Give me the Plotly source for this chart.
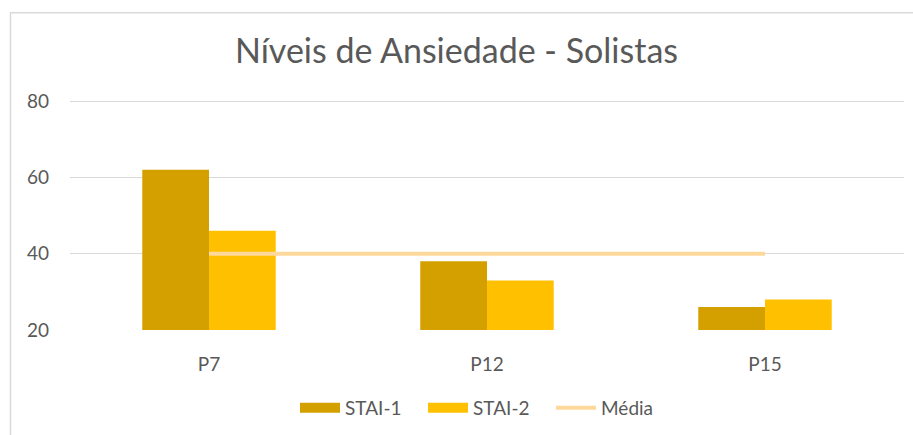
import plotly.graph_objects as go

categories = ["P7", "P12", "P15"]
stai1 = [62, 38, 26]
stai2 = [46, 33, 28]
media = [40, 40, 40]
y_ticks = [20, 40, 60, 80]

W, H = 913, 435
# plot area: 80 -> y=101, 20 -> y=330, x from 70 to 904
y_top = 80.3
px_per_unit = (330 - 101) / 60.0
top_px = 101 - (y_top - 80) * px_per_unit
L, R, T, B = 70, 9, top_px, H - 330
pw = W - L - R
ph = H - T - B

def px_x(p):
    return (p - L) / pw

def px_y(p):
    return (H - B - p) / ph

font_family = "Lato, 'Open Sans', sans-serif"
grey = "#595959"
c1, c2, c3 = "#D4A000", "#FFC000", "#FFD99C"

fig = go.Figure()
fig.add_trace(go.Bar(name="STAI-1", x=categories, y=stai1, marker_color=c1,
                     marker_line_width=0, showlegend=False, legendgroup="s1"))
fig.add_trace(go.Bar(name="STAI-2", x=categories, y=stai2, marker_color=c2,
                     marker_line_width=0, showlegend=False, legendgroup="s2"))
fig.add_trace(go.Scatter(name="Média", x=categories, y=media, mode="lines",
                         line=dict(color=c3, width=4), showlegend=False, legendgroup="m"))
# legend entries (wide swatches like the original)
fig.add_trace(go.Scatter(name="STAI-1", x=[None], y=[None], mode="lines",
                         line=dict(color=c1, width=13), legendgroup="s1"))
fig.add_trace(go.Scatter(name="STAI-2", x=[None], y=[None], mode="lines",
                         line=dict(color=c2, width=13), legendgroup="s2"))
fig.add_trace(go.Scatter(name="Média", x=[None], y=[None], mode="lines",
                         line=dict(color=c3, width=4), legendgroup="m"))

fig.update_layout(
    width=W, height=H,
    margin=dict(l=L, r=R, t=T, b=B, autoexpand=False),
    paper_bgcolor="white", plot_bgcolor="white",
    barmode="group", bargap=0.52, bargroupgap=0,
    title=dict(text="Níveis de Ansiedade - Solistas", x=0.5, xanchor="center",
               y=1 - 51 / H, yanchor="middle",
               font=dict(family=font_family, size=34, color=grey)),
    font=dict(family=font_family, color=grey),
    xaxis=dict(showgrid=False, showline=False, ticks="", ticklabelstandoff=21,
               tickfont=dict(size=19, color=grey)),
    yaxis=dict(range=[20, y_top], tickvals=y_ticks, showgrid=True, gridcolor="#D9D9D9",
               gridwidth=1.3, zeroline=False, showline=False, ticks="", ticklabelstandoff=20,
               tickfont=dict(size=19, color=grey)),
    legend=dict(orientation="h", x=0.5, xanchor="center", y=px_y(408), yanchor="middle",
                font=dict(size=19, color=grey), traceorder="normal",
                itemwidth=40, entrywidth=73, entrywidthmode="pixels",
                groupclick="togglegroup"),
    showlegend=True,
    shapes=[
        dict(type="line", xref="paper", yref="paper", x0=px_x(10.5), x1=px_x(10.5),
             y0=px_y(12), y1=px_y(440), line=dict(color="#D9D9D9", width=1.5)),
        dict(type="line", xref="paper", yref="paper", x0=px_x(10), x1=px_x(920),
             y0=px_y(12.5), y1=px_y(12.5), line=dict(color="#D9D9D9", width=1.5)),
    ],
)

fig.write_html("out.html", config={"displayModeBar": False},
               post_script="document.body.style.margin='0';")
